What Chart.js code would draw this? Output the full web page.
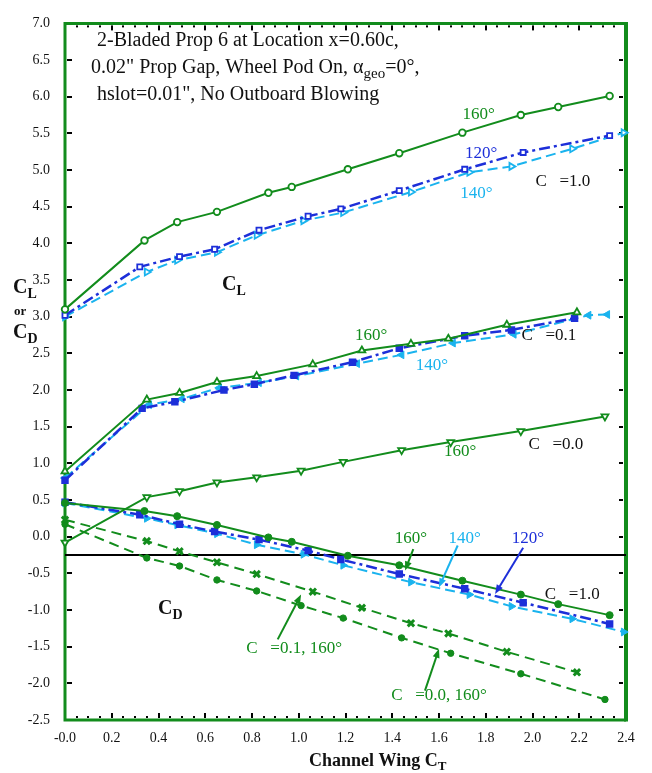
<!DOCTYPE html>
<html>
<head>
<meta charset="utf-8">
<title>Channel Wing CL / CD</title>
<script src="https://cdn.jsdelivr.net/npm/chart.js@4.4.1/dist/chart.umd.min.js"></script>
<style>
  html, body { margin: 0; padding: 0; background: #fff; }
  #wrap { width: 652px; height: 773px; }
</style>
</head>
<body>
<div id="wrap"><canvas id="chart" width="652" height="773"></canvas></div>
<script>
// Thrust coefficient (CT) and lift / drag coefficients per run
// C_mu = 1.0
const ct160Mu10 = [0, 0.34, 0.48, 0.65, 0.87, 0.97, 1.21, 1.43, 1.70, 1.95, 2.11, 2.33];
const cl160Mu10 = [3.10, 4.04, 4.29, 4.43, 4.69, 4.77, 5.01, 5.23, 5.51, 5.75, 5.86, 6.01];
const cd160Mu10 = [0.46, 0.35, 0.28, 0.16, -0.01, -0.07, -0.26, -0.39, -0.60, -0.79, -0.92, -1.07];

const ct120Mu10 = [0, 0.32, 0.49, 0.64, 0.83, 1.04, 1.18, 1.43, 1.71, 1.96, 2.33];
const cl120Mu10 = [3.02, 3.68, 3.82, 3.92, 4.18, 4.37, 4.47, 4.72, 5.01, 5.24, 5.47];
const cd120Mu10 = [0.47, 0.30, 0.17, 0.07, -0.04, -0.19, -0.31, -0.51, -0.71, -0.90, -1.19];

const ct140Mu10 = [0, 0.35, 0.48, 0.65, 0.82, 1.02, 1.19, 1.48, 1.73, 1.91, 2.17, 2.39];
const cl140Mu10 = [3.00, 3.61, 3.77, 3.88, 4.11, 4.31, 4.42, 4.70, 4.97, 5.05, 5.29, 5.51];
const cd140Mu10 = [0.46, 0.25, 0.16, 0.04, -0.11, -0.24, -0.39, -0.62, -0.79, -0.95, -1.12, -1.30];

// C_mu = 0.1
const ct160Mu01 = [0, 0.35, 0.49, 0.65, 0.82, 1.06, 1.27, 1.48, 1.64, 1.89, 2.19];
const cl160Mu01 = [0.89, 1.87, 1.96, 2.11, 2.19, 2.35, 2.54, 2.63, 2.70, 2.89, 3.06];
const cd160Mu01 = [0.23, -0.06, -0.20, -0.35, -0.51, -0.75, -0.97, -1.18, -1.32, -1.57, -1.85];

const ct120Mu01 = [0, 0.33, 0.47, 0.68, 0.81, 0.98, 1.23, 1.43, 1.71, 1.91, 2.18];
const cl120Mu01 = [0.77, 1.75, 1.84, 2.00, 2.08, 2.20, 2.38, 2.57, 2.74, 2.82, 2.98];

const ct140Mu01 = [0, 0.36, 0.50, 0.66, 0.83, 0.99, 1.25, 1.44, 1.66, 1.92, 2.24, 2.32];
const cl140Mu01 = [0.80, 1.80, 1.88, 2.03, 2.10, 2.19, 2.36, 2.48, 2.64, 2.76, 3.02, 3.03];

// C_mu = 0.0
const ct160Mu00 = [0, 0.35, 0.49, 0.65, 0.82, 1.01, 1.19, 1.44, 1.65, 1.95, 2.31];
const cl160Mu00 = [-0.08, 0.54, 0.62, 0.74, 0.81, 0.90, 1.02, 1.18, 1.29, 1.44, 1.64];
const cd160Mu00 = [0.17, -0.29, -0.40, -0.59, -0.74, -0.94, -1.11, -1.38, -1.59, -1.87, -2.22];

// reference level line
const refLineX = [0, 2.4];
const refLineY = [-0.25, -0.25];

const GREEN = '#128c1c';
const BLUE = '#1d2fd9';
const CYAN = '#1ab3ee';
const SERIF = '"Liberation Serif", "Times New Roman", serif';

const pts = (xs, ys) => xs.map((x, i) => ({ x: x, y: ys[i] }));

function series(xs, ys, color, dash, style, filled, opts) {
  return Object.assign({
    data: pts(xs, ys),
    showLine: true,
    borderColor: color,
    borderWidth: 2,
    borderDash: dash,
    pointStyle: style,
    pointRadius: 3.3,
    pointBorderWidth: 1.8,
    pointBorderColor: color,
    pointBackgroundColor: filled ? color : '#fff',
    clip: false
  }, opts || {});
}

const DASHDOT = [11, 4, 3, 4];
const DASH = [10, 5];
const DASH_G = [10, 6];

const datasets = [
  series(ct160Mu10, cl160Mu10, GREEN, [], 'circle', false),
  series(ct160Mu10, cd160Mu10, GREEN, [], 'circle', true, { pointRadius: 3.5, pointBorderWidth: 1 }),
  series(ct160Mu01, cl160Mu01, GREEN, [], 'triangle', false, { pointRadius: 4 }),
  series(ct160Mu00, cl160Mu00, GREEN, [], 'triangle', false, { pointRadius: 4, pointRotation: 180 }),
  series(ct160Mu01, cd160Mu01, GREEN, DASH_G, 'crossRot', true, { pointRadius: 4.5, pointBorderWidth: 3 }),
  series(ct160Mu00, cd160Mu00, GREEN, DASH_G, 'circle', true, { pointRadius: 3.2, pointBorderWidth: 1 }),
  series(ct120Mu10, cl120Mu10, BLUE, DASHDOT, 'rect', false, { borderWidth: 2.5, pointRadius: 3.6 }),
  series(ct120Mu10, cd120Mu10, BLUE, DASHDOT, 'rect', true, { borderWidth: 2.5, pointRadius: 4 }),
  series(ct120Mu01, cl120Mu01, BLUE, DASHDOT, 'rect', true, { borderWidth: 2.5, pointRadius: 4 }),
  series(ct140Mu10, cl140Mu10, CYAN, DASH, 'triangle', false, { pointRotation: 90, pointRadius: 4 }),
  series(ct140Mu10, cd140Mu10, CYAN, DASH, 'triangle', true, { pointRotation: 90, pointRadius: 4.5, pointBorderWidth: 1 }),
  series(ct140Mu01, cl140Mu01, CYAN, DASH, 'triangle', true, { pointRotation: 270, pointRadius: 4.5, pointBorderWidth: 1 }),
  {
    data: pts(refLineX, refLineY),
    showLine: true,
    borderColor: '#000',
    borderWidth: 2,
    pointRadius: 0,
    clip: false
  }
];

// text notes placed in axis units
const notes = [
  { x: 1.77, y: 5.76, text: '160°', color: GREEN },
  { x: 1.78, y: 5.23, text: '120°', color: BLUE },
  { x: 1.76, y: 4.68, text: '140°', color: CYAN },
  { x: 2.13, y: 4.85, text: 'C   =1.0', color: '#111' },
  { x: 1.31, y: 2.75, text: '160°', color: GREEN },
  { x: 1.57, y: 2.34, text: '140°', color: CYAN },
  { x: 2.07, y: 2.75, text: 'C   =0.1', color: '#111' },
  { x: 2.10, y: 1.26, text: 'C   =0.0', color: '#111' },
  { x: 1.69, y: 1.16, text: '160°', color: GREEN },
  { x: 1.48, y: -0.03, text: '160°', color: GREEN },
  { x: 1.71, y: -0.03, text: '140°', color: CYAN },
  { x: 1.98, y: -0.03, text: '120°', color: BLUE },
  { x: 2.17, y: -0.79, text: 'C   =1.0', color: '#111' },
  { x: 0.98, y: -1.53, text: 'C   =0.1, 160°', color: GREEN },
  { x: 1.60, y: -2.16, text: 'C   =0.0, 160°', color: GREEN }
];

const arrows = [
  { x1: 1.49, y1: -0.17, x2: 1.455, y2: -0.46, color: GREEN },
  { x1: 1.68, y1: -0.12, x2: 1.60, y2: -0.69, color: CYAN },
  { x1: 1.96, y1: -0.15, x2: 1.84, y2: -0.78, color: BLUE },
  { x1: 0.91, y1: -1.40, x2: 1.01, y2: -0.79, color: GREEN },
  { x1: 1.54, y1: -2.10, x2: 1.60, y2: -1.53, color: GREEN }
];

// draw a row of text pieces; sub pieces are smaller and lowered
function drawRich(ctx, x, y, parts, align) {
  let total = 0;
  parts.forEach(p => { ctx.font = p.font; total += ctx.measureText(p.t).width; });
  let cx = align === 'center' ? x - total / 2 : x;
  ctx.textAlign = 'left';
  ctx.textBaseline = 'alphabetic';
  parts.forEach(p => {
    ctx.font = p.font;
    ctx.fillText(p.t, cx, y + (p.dy || 0));
    cx += ctx.measureText(p.t).width;
  });
}

function drawArrow(ctx, x1, y1, x2, y2, color) {
  const ang = Math.atan2(y2 - y1, x2 - x1);
  const len = 9, half = 3.5;
  ctx.strokeStyle = color;
  ctx.fillStyle = color;
  ctx.lineWidth = 2;
  ctx.beginPath();
  ctx.moveTo(x1, y1);
  ctx.lineTo(x2 - Math.cos(ang) * len * 0.8, y2 - Math.sin(ang) * len * 0.8);
  ctx.stroke();
  ctx.beginPath();
  ctx.moveTo(x2, y2);
  ctx.lineTo(x2 - Math.cos(ang) * len - Math.sin(ang) * half, y2 - Math.sin(ang) * len + Math.cos(ang) * half);
  ctx.lineTo(x2 - Math.cos(ang) * len + Math.sin(ang) * half, y2 - Math.sin(ang) * len - Math.cos(ang) * half);
  ctx.closePath();
  ctx.fill();
}

const framePlugin = {
  id: 'frame',
  beforeDatasetsDraw(chart) {
    const { ctx, chartArea: a, scales: { x, y } } = chart;
    ctx.save();
    // tick marks, pointing inward on all four sides
    ctx.fillStyle = '#000';
    for (let v = 0; v <= 2.4001; v += 0.05) {
      const px = Math.round(x.getPixelForValue(v));
      const major = Math.abs(v / 0.2 - Math.round(v / 0.2)) < 1e-6;
      const h = major ? 5 : 2;
      ctx.fillRect(px - 1, a.bottom - 2 - h, 2, h);
      ctx.fillRect(px - 1, a.top + 2, 2, h);
    }
    for (let v = -2.5; v <= 7.0001; v += 0.5) {
      const py = Math.round(y.getPixelForValue(v));
      ctx.fillRect(a.left + 2, py - 1, 5, 2);
      ctx.fillRect(a.right - 7, py - 1, 4, 2);
    }
    // green box
    ctx.strokeStyle = GREEN;
    ctx.lineWidth = 3;
    ctx.beginPath();
    ctx.moveTo(a.left, a.top);
    ctx.lineTo(a.right, a.top);
    ctx.moveTo(a.left, a.bottom);
    ctx.lineTo(a.right, a.bottom);
    ctx.moveTo(a.left, a.top - 1.5);
    ctx.lineTo(a.left, a.bottom + 1.5);
    ctx.stroke();
    ctx.lineWidth = 4;
    ctx.beginPath();
    ctx.moveTo(a.right, a.top - 1.5);
    ctx.lineTo(a.right, a.bottom + 1.5);
    ctx.stroke();
    ctx.restore();
  },
  afterDraw(chart) {
    const { ctx, scales: { x, y } } = chart;
    ctx.save();
    const f17 = '17px ' + SERIF;
    const f20 = '20px ' + SERIF;

    notes.forEach(n => {
      ctx.fillStyle = n.color;
      ctx.font = f17;
      ctx.textAlign = 'center';
      ctx.textBaseline = 'middle';
      ctx.fillText(n.text, x.getPixelForValue(n.x), y.getPixelForValue(n.y));
    });

    arrows.forEach(r => drawArrow(ctx,
      x.getPixelForValue(r.x1), y.getPixelForValue(r.y1),
      x.getPixelForValue(r.x2), y.getPixelForValue(r.y2), r.color));

    // header block
    ctx.fillStyle = '#111';
    drawRich(ctx, 97, 46, [{ t: '2-Bladed Prop 6 at Location x=0.60c,', font: f20 }], 'left');
    drawRich(ctx, 91, 73, [
      { t: '0.02" Prop Gap, Wheel Pod On, α', font: f20 },
      { t: 'geo', font: '15px ' + SERIF, dy: 5 },
      { t: '=0°,', font: f20 }
    ], 'left');
    drawRich(ctx, 97, 100, [{ t: 'hslot=0.01", No Outboard Blowing', font: f20 }], 'left');

    // CL / CD group labels
    const fb = 'bold 20px ' + SERIF;
    const fbs = 'bold 14px ' + SERIF;
    drawRich(ctx, x.getPixelForValue(0.672), y.getPixelForValue(3.37),
      [{ t: 'C', font: fb }, { t: 'L', font: fbs, dy: 5 }], 'left');
    drawRich(ctx, x.getPixelForValue(0.398), y.getPixelForValue(-1.06),
      [{ t: 'C', font: fb }, { t: 'D', font: fbs, dy: 5 }], 'left');

    // y axis title
    drawRich(ctx, 13, 293, [{ t: 'C', font: fb }, { t: 'L', font: fbs, dy: 5 }], 'left');
    drawRich(ctx, 14, 315, [{ t: 'or', font: 'bold 13px ' + SERIF }], 'left');
    drawRich(ctx, 13, 338, [{ t: 'C', font: fb }, { t: 'D', font: fbs, dy: 5 }], 'left');

    // x axis title
    drawRich(ctx, 309, 766, [
      { t: 'Channel Wing C', font: 'bold 18px ' + SERIF },
      { t: 'T', font: 'bold 13px ' + SERIF, dy: 4 }
    ], 'left');
    ctx.restore();
  }
};

new Chart(document.getElementById('chart'), {
  type: 'scatter',
  data: { datasets: datasets },
  options: {
    responsive: false,
    animation: false,
    devicePixelRatio: 1,
    layout: { padding: { top: 13, right: 26, left: 0, bottom: 0 } },
    plugins: { legend: { display: false }, tooltip: { enabled: false } },
    scales: {
      x: {
        type: 'linear',
        min: 0,
        max: 2.4,
        grid: { display: false, drawTicks: false },
        border: { display: false },
        ticks: {
          stepSize: 0.2,
          padding: 10,
          color: '#111',
          font: { family: SERIF, size: 14 },
          maxRotation: 0,
          callback: v => Math.abs(v) < 1e-9 ? '-0.0' : v.toFixed(1)
        },
        afterFit: s => { s.height = 53; }
      },
      y: {
        type: 'linear',
        min: -2.5,
        max: 7.0,
        grid: { display: false, drawTicks: false },
        border: { display: false },
        ticks: {
          stepSize: 0.5,
          padding: 15,
          color: '#111',
          font: { family: SERIF, size: 14 },
          callback: v => v.toFixed(1)
        },
        afterFit: s => { s.width = 65; }
      }
    }
  },
  plugins: [framePlugin]
});
</script>
</body>
</html>
